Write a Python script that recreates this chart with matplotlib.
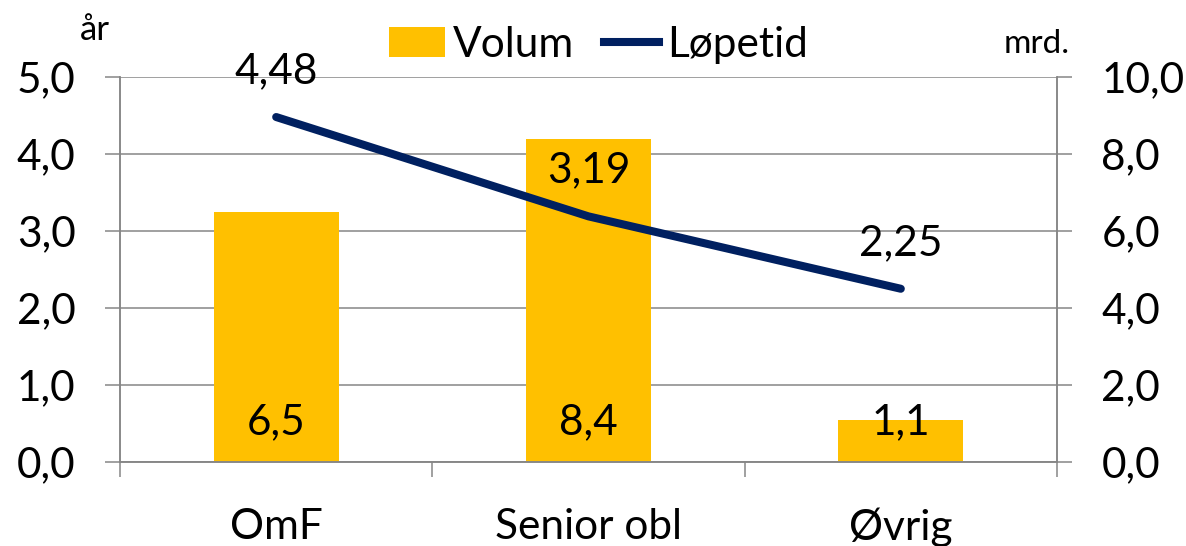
import matplotlib
matplotlib.use("Agg")
import matplotlib.pyplot as plt
from matplotlib.patches import Patch
from matplotlib.lines import Line2D
from matplotlib.ticker import FuncFormatter
import numpy as np

# data
kategorier = ['OmF', 'Senior obl', 'Øvrig']
volum = [6.5, 8.4, 1.1]          # mrd. (høyre akse)
lopetid = [4.48, 3.19, 2.25]     # år (venstre akse)
volum_lbl = ['6,5', '8,4', '1,1']
lopetid_lbl = ['4,48', '3,19', '2,25']

plt.rcParams['font.family'] = ['Lato', 'DejaVu Sans']

GUL = '#FFC000'
BLA = '#002060'
GRA = '#868686'
FS = 30.5


def komma(v, pos):
    return f'{v:.1f}'.replace('.', ',')


fig = plt.figure(figsize=(11.86, 5.46), dpi=100)
ax = fig.add_axes([0.1012, 0.1538, 0.79, 0.7052])   # søyler, høyre akse
ax2 = ax.twinx()                                      # linje, venstre akse

x = np.arange(len(kategorier))

# søyler
ax.bar(x, volum, width=0.4, color=GUL, zorder=2)
ax.set_ylim(0, 10)
ax.set_xlim(-0.5, 2.5)
ax.set_yticks(np.arange(0, 10.1, 2))
ax.yaxis.set_major_formatter(FuncFormatter(komma))
ax.yaxis.tick_right()
ax.set_axisbelow(True)
ax.grid(axis='y', color=GRA, lw=1.1)
for xi, lbl in zip(x, volum_lbl):
    ax.annotate(lbl, (xi, 0), xytext=(0, 29), textcoords='offset points',
                ha='center', va='center', fontsize=FS, zorder=3)

# linje
ax2.plot(x, lopetid, color=BLA, lw=5.8, solid_capstyle='round', zorder=4)
ax2.set_ylim(0, 5)
ax2.set_yticks(np.arange(0, 5.1, 1))
ax2.yaxis.set_major_formatter(FuncFormatter(komma))
ax2.yaxis.tick_left()
for xi, yi, lbl in zip(x, lopetid, lopetid_lbl):
    ax2.annotate(lbl, (xi, yi), xytext=(0, 33), textcoords='offset points',
                 ha='center', va='center', fontsize=FS)

# akser
for a in (ax, ax2):
    a.spines['top'].set_visible(False)
    for s in ['left', 'right', 'bottom']:
        a.spines[s].set_color(GRA)
        a.spines[s].set_linewidth(1.1)
    a.tick_params(axis='y', length=11, width=1.1, color=GRA, pad=21,
                  labelsize=FS)

ax.set_xticks(x)
ax.set_xticklabels(kategorier)
ax.set_xticks([-0.5, 0.5, 1.5, 2.5], minor=True)
ax.tick_params(axis='x', which='major', length=0, pad=33, labelsize=FS)
ax.tick_params(axis='x', which='minor', length=11, width=1.1, color=GRA)
ax2.tick_params(axis='x', length=0)

# enheter
fig.text(0.080, 0.945, 'år', fontsize=25, ha='center', va='center')
fig.text(0.874, 0.920, 'mrd.', fontsize=24, ha='center', va='center')

# legende
handles = [Patch(facecolor=GUL, edgecolor='none', label='Volum'),
           Line2D([0], [0], color=BLA, lw=5.8, label='Løpetid')]
fig.legend(handles=handles, loc='center', bbox_to_anchor=(0.505, 0.918),
           ncol=2, frameon=False, fontsize=FS, handlelength=1.3,
           handletextpad=0.2, columnspacing=0.7, borderpad=0)

fig.savefig('out.png', dpi=100)
